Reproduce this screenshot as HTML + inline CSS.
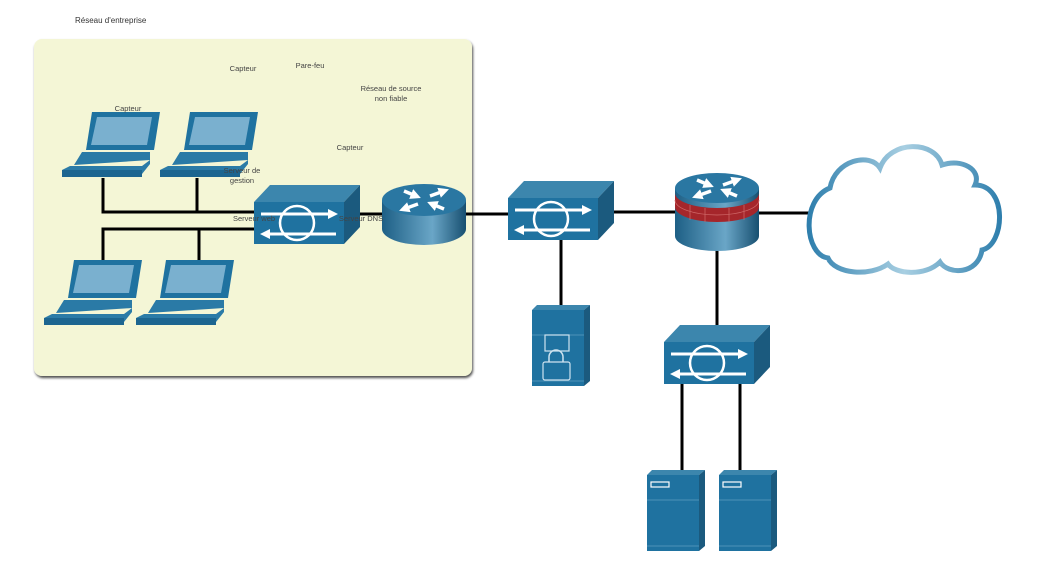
<!DOCTYPE html>
<html><head><meta charset="utf-8"><style>
body{margin:0;background:#fff}
svg{display:block;font-family:"Liberation Sans",sans-serif}
</style></head><body>
<svg width="1039" height="582" viewBox="0 0 1039 582" xmlns="http://www.w3.org/2000/svg">
<defs>
<linearGradient id="cyl" x1="0" x2="1"><stop offset="0" stop-color="#1d5f85"/><stop offset="0.6" stop-color="#6aa6c7"/><stop offset="1" stop-color="#174f70"/></linearGradient>
<linearGradient id="cl" x1="0" x2="1"><stop offset="0" stop-color="#2f7fad"/><stop offset="0.5" stop-color="#a8cfe2"/><stop offset="1" stop-color="#2f7fad"/></linearGradient>
<filter id="sh"><feDropShadow dx="1" dy="2" stdDeviation="1.2" flood-color="#000" flood-opacity="0.7"/></filter>
<marker id="ah" viewBox="0 0 10 10" refX="5" refY="5" markerWidth="3" markerHeight="3" orient="auto"><path d="M0,0 L10,5 L0,10z" fill="#fff"/></marker>
<g id="sw">
<polygon points="0,17 16,0 106,0 90,17" fill="#3c86ad"/>
<polygon points="90,17 106,0 106,42 90,59" fill="#1b5a7e"/>
<rect x="0" y="17" width="90" height="42" fill="#1f72a0"/>
<circle cx="43" cy="38" r="17" fill="none" stroke="#fff" stroke-width="2.5"/>
<line x1="7" y1="29" x2="78" y2="29" stroke="#fff" stroke-width="3"/><polygon points="84,29 74,24 74,34" fill="#fff"/>
<line x1="12" y1="49" x2="82" y2="49" stroke="#fff" stroke-width="3"/><polygon points="6,49 16,44 16,54" fill="#fff"/>
</g>
<g id="lap">
<polygon points="30,0 98,0 92,38 24,38" fill="#1f72a0"/>
<polygon points="35,5 90,5 85,33 29,33" fill="#7ab0cf"/>
<polygon points="20,40 88,40 88,48 12,53" fill="#2a7aa6"/>
<polygon points="8,54 80,54 88,48 88,52 80,62 0,62 0,58" fill="#2b7ba7"/>
<rect x="0" y="58" width="80" height="7" fill="#1c6590"/>
</g>
<g id="srvb">
<polygon points="0,5 5,0 58,0 52,5" fill="#3c86ad"/>
<polygon points="52,5 58,0 58,76 52,81" fill="#1b5a7e"/>
<rect x="0" y="5" width="52" height="76" fill="#1f72a0"/>
<line x1="0" y1="30" x2="52" y2="30" stroke="#4d93b8"/>
<line x1="0" y1="76" x2="52" y2="76" stroke="#4d93b8"/>
</g>
<g id="srv"><use href="#srvb"/><rect x="4" y="12" width="18" height="5" fill="none" stroke="#fff" stroke-width="1.2"/></g>
</defs>
<text x="75" y="23" font-size="8" fill="#333">Réseau d'entreprise</text>
<rect x="34" y="39" width="438" height="337" rx="8" fill="#f4f6d6" filter="url(#sh)"/>
<g stroke="#000" stroke-width="3" fill="none">
<polyline points="103,178 103,212 254,212"/><line x1="197" y1="178" x2="197" y2="212"/>
<polyline points="103,262 103,229 254,229"/><line x1="199" y1="229" x2="199" y2="262"/>
<line x1="343" y1="214" x2="510" y2="214"/>
<line x1="598" y1="212" x2="680" y2="212"/>
<line x1="758" y1="213" x2="810" y2="213"/>
<line x1="561" y1="240" x2="561" y2="305"/>
<line x1="717" y1="245" x2="717" y2="342"/>
<line x1="682" y1="384" x2="682" y2="472"/>
<line x1="740" y1="384" x2="740" y2="472"/>
</g>
<use href="#lap" x="62" y="112"/><use href="#lap" x="160" y="112"/>
<use href="#lap" x="44" y="260"/><use href="#lap" x="136" y="260"/>
<use href="#sw" x="254" y="185"/><use href="#sw" x="508" y="181"/><use href="#sw" x="664" y="325"/>
<!-- router -->
<path d="M382,200 v29 a42,16 0 0 0 84,0 v-29 z" fill="url(#cyl)"/>
<ellipse cx="424" cy="200" rx="42" ry="16" fill="#2a77a2"/>
<g stroke="#fff" stroke-width="3.5" marker-end="url(#ah)">
<line x1="430" y1="196" x2="444" y2="191"/><line x1="418" y1="204" x2="404" y2="209"/>
<line x1="404" y1="191" x2="416" y2="196"/><line x1="444" y1="209" x2="432" y2="204"/></g>
<!-- firewall -->
<path d="M675,188 v48 a42,15 0 0 0 84,0 v-48 z" fill="url(#cyl)"/>
<path d="M675,193 v14 a42,15 0 0 0 84,0 v-14 a42,15 0 0 1 -84,0z" fill="#a5262b"/>
<g stroke="#d06a6a" stroke-width="0.7" fill="none">
<path d="M675,200 a42,15 0 0 0 84,0"/>
<line x1="690" y1="205" x2="690" y2="220"/><line x1="705" y1="208" x2="705" y2="222"/><line x1="729" y1="208" x2="729" y2="222"/><line x1="744" y1="205" x2="744" y2="220"/>
</g>
<ellipse cx="717" cy="188" rx="42" ry="15" fill="#2a77a2"/>
<g stroke="#fff" stroke-width="3.5" marker-end="url(#ah)">
<line x1="723" y1="185" x2="737" y2="180"/><line x1="711" y1="191" x2="697" y2="196"/>
<line x1="697" y1="180" x2="709" y2="185"/><line x1="737" y1="196" x2="725" y2="191"/></g>
<!-- cloud -->
<path d="M828,258 C805,255 800,200 830,188 C835,160 870,152 880,168 C890,140 935,140 942,165 C962,158 982,170 975,185 C1008,185 1005,245 982,250 C978,275 948,275 940,262 C925,277 895,274 888,264 C870,277 835,274 828,258 Z" fill="#fff" stroke="url(#cl)" stroke-width="5"/>
<!-- servers -->
<use href="#srvb" x="532" y="305"/>
<rect x="545" y="335" width="24" height="16" fill="none" stroke="#cfe3ef" stroke-width="1.2"/>
<rect x="543" y="362" width="27" height="18" rx="2" fill="none" stroke="#cfe3ef" stroke-width="1.2"/>
<path d="M549,362 v-5 a7,7 0 0 1 14,0 v5" fill="none" stroke="#cfe3ef" stroke-width="1.5"/>
<use href="#srv" x="647" y="470"/><use href="#srv" x="719" y="470"/>
<g font-size="7.5" fill="#444" text-anchor="middle">
<text x="243" y="71">Capteur</text><text x="310" y="68">Pare-feu</text>
<text x="391" y="91">Réseau de source</text><text x="391" y="101">non fiable</text>
<text x="128" y="111">Capteur</text><text x="350" y="150">Capteur</text>
<text x="242" y="173">Serveur de</text><text x="242" y="183">gestion</text>
<text x="254" y="221">Serveur web</text><text x="361" y="221">Serveur DNS</text>
</g>
</svg>
</body></html>
